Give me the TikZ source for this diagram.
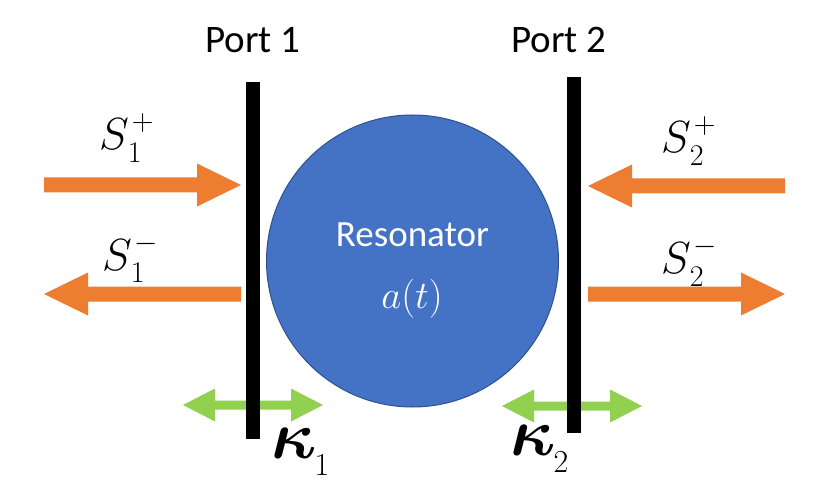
\RequirePackage{fix-cm}
\documentclass[tikz,border=0pt]{standalone}
\usepackage{bm}
\usepackage{fontspec}
\newfontfamily\calibri{Carlito}
\definecolor{orng}{HTML}{ED7D31}
\definecolor{blu}{HTML}{4472C4}
\definecolor{bluedge}{HTML}{2F528F}
\definecolor{grn}{HTML}{92D050}
\newcommand\sfnt[1]{\fontsize{#1}{#1}\selectfont}
\newcommand\Slab[2]{\sfnt{45}$S$\kern-1pt\rlap{\raisebox{19pt}{\sfnt{30}\kern4pt$#2$}}\raisebox{-13pt}{\sfnt{30}$#1$}}
\newcommand\Klab[1]{\sfnt{68}$\bm{\kappa}$\kern-2pt\raisebox{-17pt}{\sfnt{32}$#1$}}
\tikzset{
  x=1pt, y=-1pt,
  portbar/.style={fill=black},
  porttext/.style={font=\calibri\sfnt{39}, anchor=base, inner sep=0pt},
  mathlab/.style={anchor=base west, inner sep=0pt},
  pics/orarrow/.style={code={
    \fill[orng] (0,0) -- (-44,21.5) -- (-44,7.5) -- (-197,7.5) -- (-197,-7.5)
      -- (-44,-7.5) -- (-44,-21.5) -- cycle;}},
  pics/grarrow/.style={code={
    \fill[grn] (-70,0) -- (-38,16.5) -- (-38,4.5) -- (38,4.5) -- (38,16.5) -- (70,0)
      -- (38,-16.5) -- (38,-4.5) -- (-38,-4.5) -- (-38,-16.5) -- cycle;}}
}
\begin{document}
\begin{tikzpicture}
\useasboundingbox[fill=white] (0,0) rectangle (830,497);
% resonator
\node (res) [circle, fill=blu, draw=bluedge, line width=1pt, minimum size=292pt, inner sep=0pt] at (412.5,261) {};
\node (restext) [font=\calibri\sfnt{37}, text=white, anchor=base, inner sep=0pt] at (412.5,247) {Resonator};
\node (at) [font=\sfnt{39}, text=white, anchor=base, inner sep=0pt] at (412,308) {$a(t)$};
% orange arrows
\pic at (241,185) {orarrow};
\pic[rotate=180] at (44,294) {orarrow};
\pic[rotate=180] at (588,186) {orarrow};
\pic at (785,294) {orarrow};
% green arrows
\pic at (253,405) {grarrow};
\pic at (572,406) {grarrow};
% port bars
\fill[portbar] (246,82) rectangle (260,439);
\fill[portbar] (567,77) rectangle (581,433);
% labels
\node (p1) [porttext] at (253,53) {Port 1};
\node (p2) [porttext] at (559,53) {Port 2};
\node (s1p) [mathlab] at (99,150) {\Slab{1}{+}};
\node (s1m) [mathlab] at (102,270) {\Slab{1}{-}};
\node (s2p) [mathlab] at (661,153) {\Slab{2}{+}};
\node (s2m) [mathlab] at (661,273) {\Slab{2}{-}};
\node (k1) [mathlab] at (271,458) {\Klab{1}};
\node (k2) [mathlab] at (510,455) {\Klab{2}};
\end{tikzpicture}
\end{document}
